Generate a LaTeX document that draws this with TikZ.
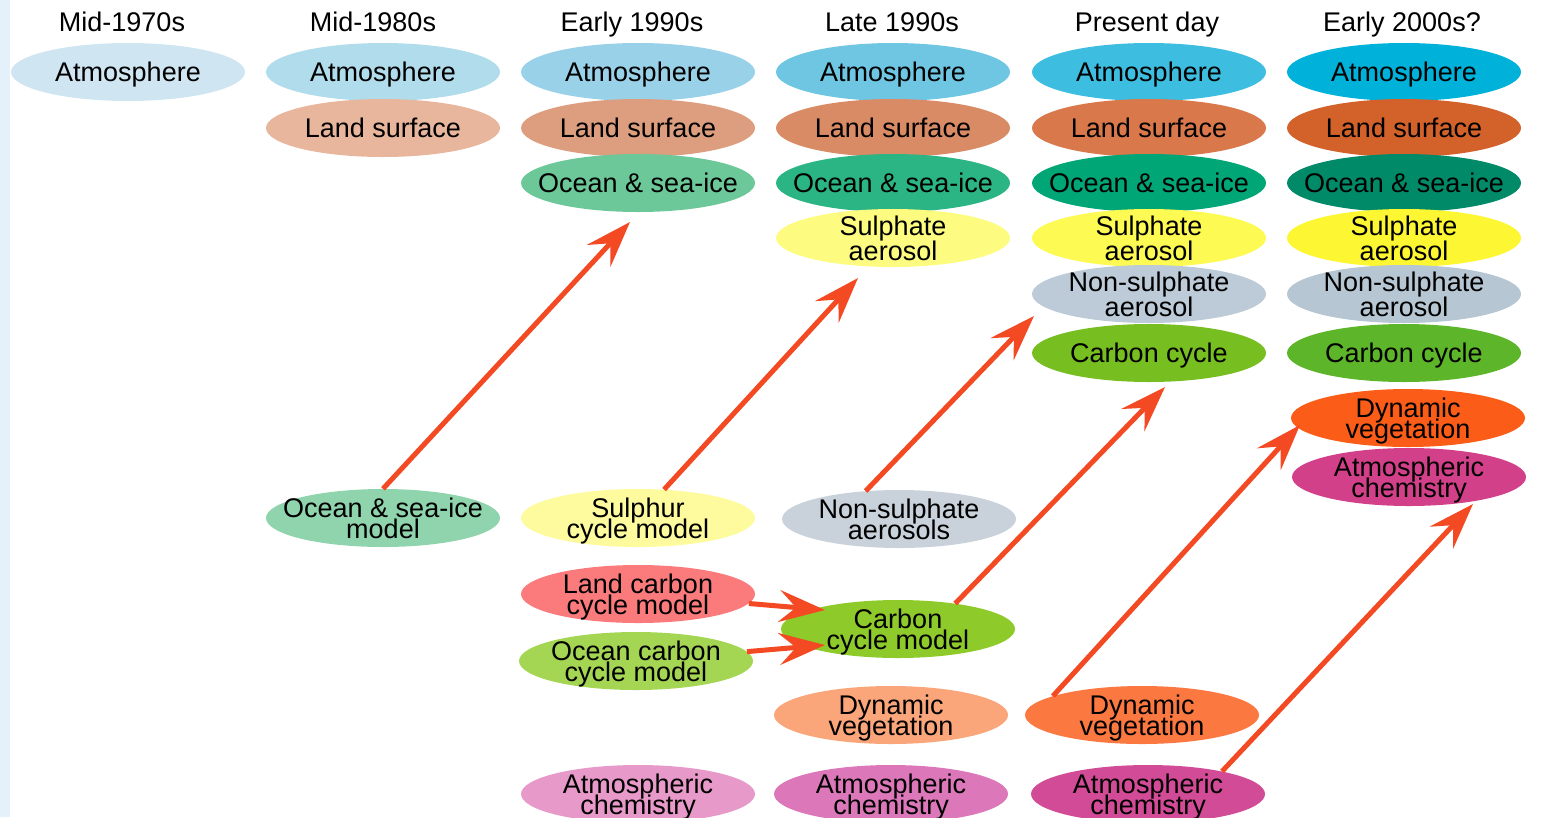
\documentclass[tikz,border=0pt]{standalone}
\usepackage{fontspec}
\setmainfont{Liberation Sans}
\usetikzlibrary{arrows.meta,shapes.geometric}
\definecolor{strip}{HTML}{E4F1FB}
\definecolor{arrowc}{HTML}{F34A24}
\definecolor{atmA}{HTML}{CFE6F2}
\definecolor{atmB}{HTML}{B1DCEC}
\definecolor{atmC}{HTML}{99D1E9}
\definecolor{atmD}{HTML}{6EC6E2}
\definecolor{atmE}{HTML}{3DBDE0}
\definecolor{atmF}{HTML}{00B1DA}
\definecolor{lndB}{HTML}{E8B69C}
\definecolor{lndC}{HTML}{DD9E80}
\definecolor{lndD}{HTML}{D98B66}
\definecolor{lndE}{HTML}{D9784B}
\definecolor{lndF}{HTML}{D2622A}
\definecolor{ocnC}{HTML}{6CC799}
\definecolor{ocnD}{HTML}{2BB584}
\definecolor{ocnE}{HTML}{00A676}
\definecolor{ocnF}{HTML}{008A68}
\definecolor{sulD}{HTML}{FDFC80}
\definecolor{sulE}{HTML}{FDFA53}
\definecolor{sulF}{HTML}{FDF733}
\definecolor{nsuE}{HTML}{BCCBD7}
\definecolor{nsuF}{HTML}{B6C6D3}
\definecolor{carE}{HTML}{77BE21}
\definecolor{carF}{HTML}{5DB529}
\definecolor{dvgF}{HTML}{FB5D19}
\definecolor{achF}{HTML}{D3408A}
\definecolor{osim}{HTML}{8FD4AD}
\definecolor{sulm}{HTML}{FDFB9D}
\definecolor{nsam}{HTML}{C9D2DA}
\definecolor{lcm}{HTML}{FB7B7C}
\definecolor{ccm}{HTML}{8ECB2A}
\definecolor{ocm}{HTML}{A5D653}
\definecolor{dvgD}{HTML}{FBA57A}
\definecolor{dvgE}{HTML}{FB7840}
\definecolor{achC}{HTML}{E79AC9}
\definecolor{achD}{HTML}{DC78B9}
\definecolor{achE}{HTML}{D24B96}
\begin{document}
\begin{tikzpicture}[x=1pt,y=-1pt,
  blob/.style={ellipse, minimum width=234pt, minimum height=58pt,
    inner xsep=-40pt, inner ysep=-20pt, text depth=0pt,
    align=center, font={\fontsize{27}{25}\selectfont\lineskiplimit=-50pt\lineskip=0pt}},
  tight/.style={font={\fontsize{27}{21.5}\selectfont\lineskiplimit=-50pt\lineskip=0pt}},
  hdr/.style={text depth=0pt, font=\fontsize{27}{27}\selectfont},
  arr/.style={line width=5pt, draw=arrowc,
    -{Stealth[length=46pt,width=32pt,inset=17pt]}}]
\useasboundingbox (0,0) rectangle (1562,817);
\clip (0,0) rectangle (1562,817);
\fill[strip] (0,0) rectangle (10,817);
% headers
\node[hdr] (h1) at (122,22) {Mid-1970s};
\node[hdr] (h2) at (373,22) {Mid-1980s};
\node[hdr] (h3) at (632,22) {Early 1990s};
\node[hdr] (h4) at (892,22) {Late 1990s};
\node[hdr] (h5) at (1147,22) {Present day};
\node[hdr] (h6) at (1402,22) {Early 2000s?};
% column 1
\node[blob, fill=atmA] (a1) at (128,72) {Atmosphere};
% column 2
\node[blob, fill=atmB] (a2) at (383,72) {Atmosphere};
\node[blob, fill=lndB] (l2) at (383,128) {Land surface};
% column 3
\node[blob, fill=atmC] (a3) at (638,72) {Atmosphere};
\node[blob, fill=lndC] (l3) at (638,128) {Land surface};
\node[blob, fill=ocnC] (o3) at (638,183) {Ocean \& sea-ice};
% column 4
\node[blob, fill=atmD] (a4) at (893,72) {Atmosphere};
\node[blob, fill=lndD] (l4) at (893,128) {Land surface};
\node[blob, fill=ocnD] (o4) at (893,183) {Ocean \& sea-ice};
\node[blob, fill=sulD] (s4) at (893,238) {Sulphate\\aerosol};
% column 5
\node[blob, fill=atmE] (a5) at (1149,72) {Atmosphere};
\node[blob, fill=lndE] (l5) at (1149,128) {Land surface};
\node[blob, fill=ocnE] (o5) at (1149,183) {Ocean \& sea-ice};
\node[blob, fill=sulE] (s5) at (1149,238) {Sulphate\\aerosol};
\node[blob, fill=nsuE] (n5) at (1149,294) {Non-sulphate\\aerosol};
\node[blob, fill=carE] (c5) at (1149,353) {Carbon cycle};
% column 6
\node[blob, fill=atmF] (a6) at (1404,72) {Atmosphere};
\node[blob, fill=lndF] (l6) at (1404,128) {Land surface};
\node[blob, fill=ocnF] (o6) at (1404,183) {Ocean \& sea-ice};
\node[blob, fill=sulF] (s6) at (1404,238) {Sulphate\\aerosol};
\node[blob, fill=nsuF] (n6) at (1404,294) {Non-sulphate\\aerosol};
\node[blob, fill=carF] (c6) at (1404,353) {Carbon cycle};
\node[blob, tight, fill=dvgF] (d6) at (1408,418) {Dynamic\\vegetation};
\node[blob, tight, fill=achF] (x6) at (1409,477) {Atmospheric\\chemistry};
% component models
\node[blob, tight, fill=osim] (osm) at (383,518) {Ocean \& sea-ice\\model};
\node[blob, tight, fill=sulm] (sum) at (638,518) {Sulphur\\cycle model};
\node[blob, tight, fill=nsam] (nsm) at (899,519) {Non-sulphate\\aerosols};
\node[blob, tight, fill=lcm] (lcm) at (638,594) {Land carbon\\cycle model};
\node[blob, tight, fill=ocm] (ocm) at (636,661) {Ocean carbon\\cycle model};
\node[blob, tight, fill=ccm] (ccm) at (898,629) {Carbon\\cycle model};
\node[blob, tight, fill=dvgD] (d4) at (891,715) {Dynamic\\vegetation};
\node[blob, tight, fill=dvgE] (d5) at (1142,715) {Dynamic\\vegetation};
\node[blob, tight, fill=achC] (x3) at (638,794) {Atmospheric\\chemistry};
\node[blob, tight, fill=achD] (x4) at (891,794) {Atmospheric\\chemistry};
\node[blob, tight, fill=achE] (x5) at (1148,794) {Atmospheric\\chemistry};
% arrow targets
\coordinate (t1) at (630,222);
\coordinate (t2) at (858,278);
\coordinate (t3) at (1034,316);
\coordinate (t4) at (1165,387);
\coordinate (t5) at (1300,425);
\coordinate (t6) at (1473,504);
\coordinate (t7) at (825,610);
\coordinate (t8) at (825,645);
% arrows
\draw[arr] (osm.north) -- (t1);
\draw[arr] (sum) -- (t2);
\draw[arr] (nsm.140) -- (t3);
\draw[arr] (ccm.24) -- (t4);
\draw[arr] (d5.168) -- (t5);
\draw[arr] (x5.17) -- (t6);
\draw[arr] (lcm) -- (t7);
\draw[arr] (ocm) -- (t8);
\end{tikzpicture}
\end{document}
